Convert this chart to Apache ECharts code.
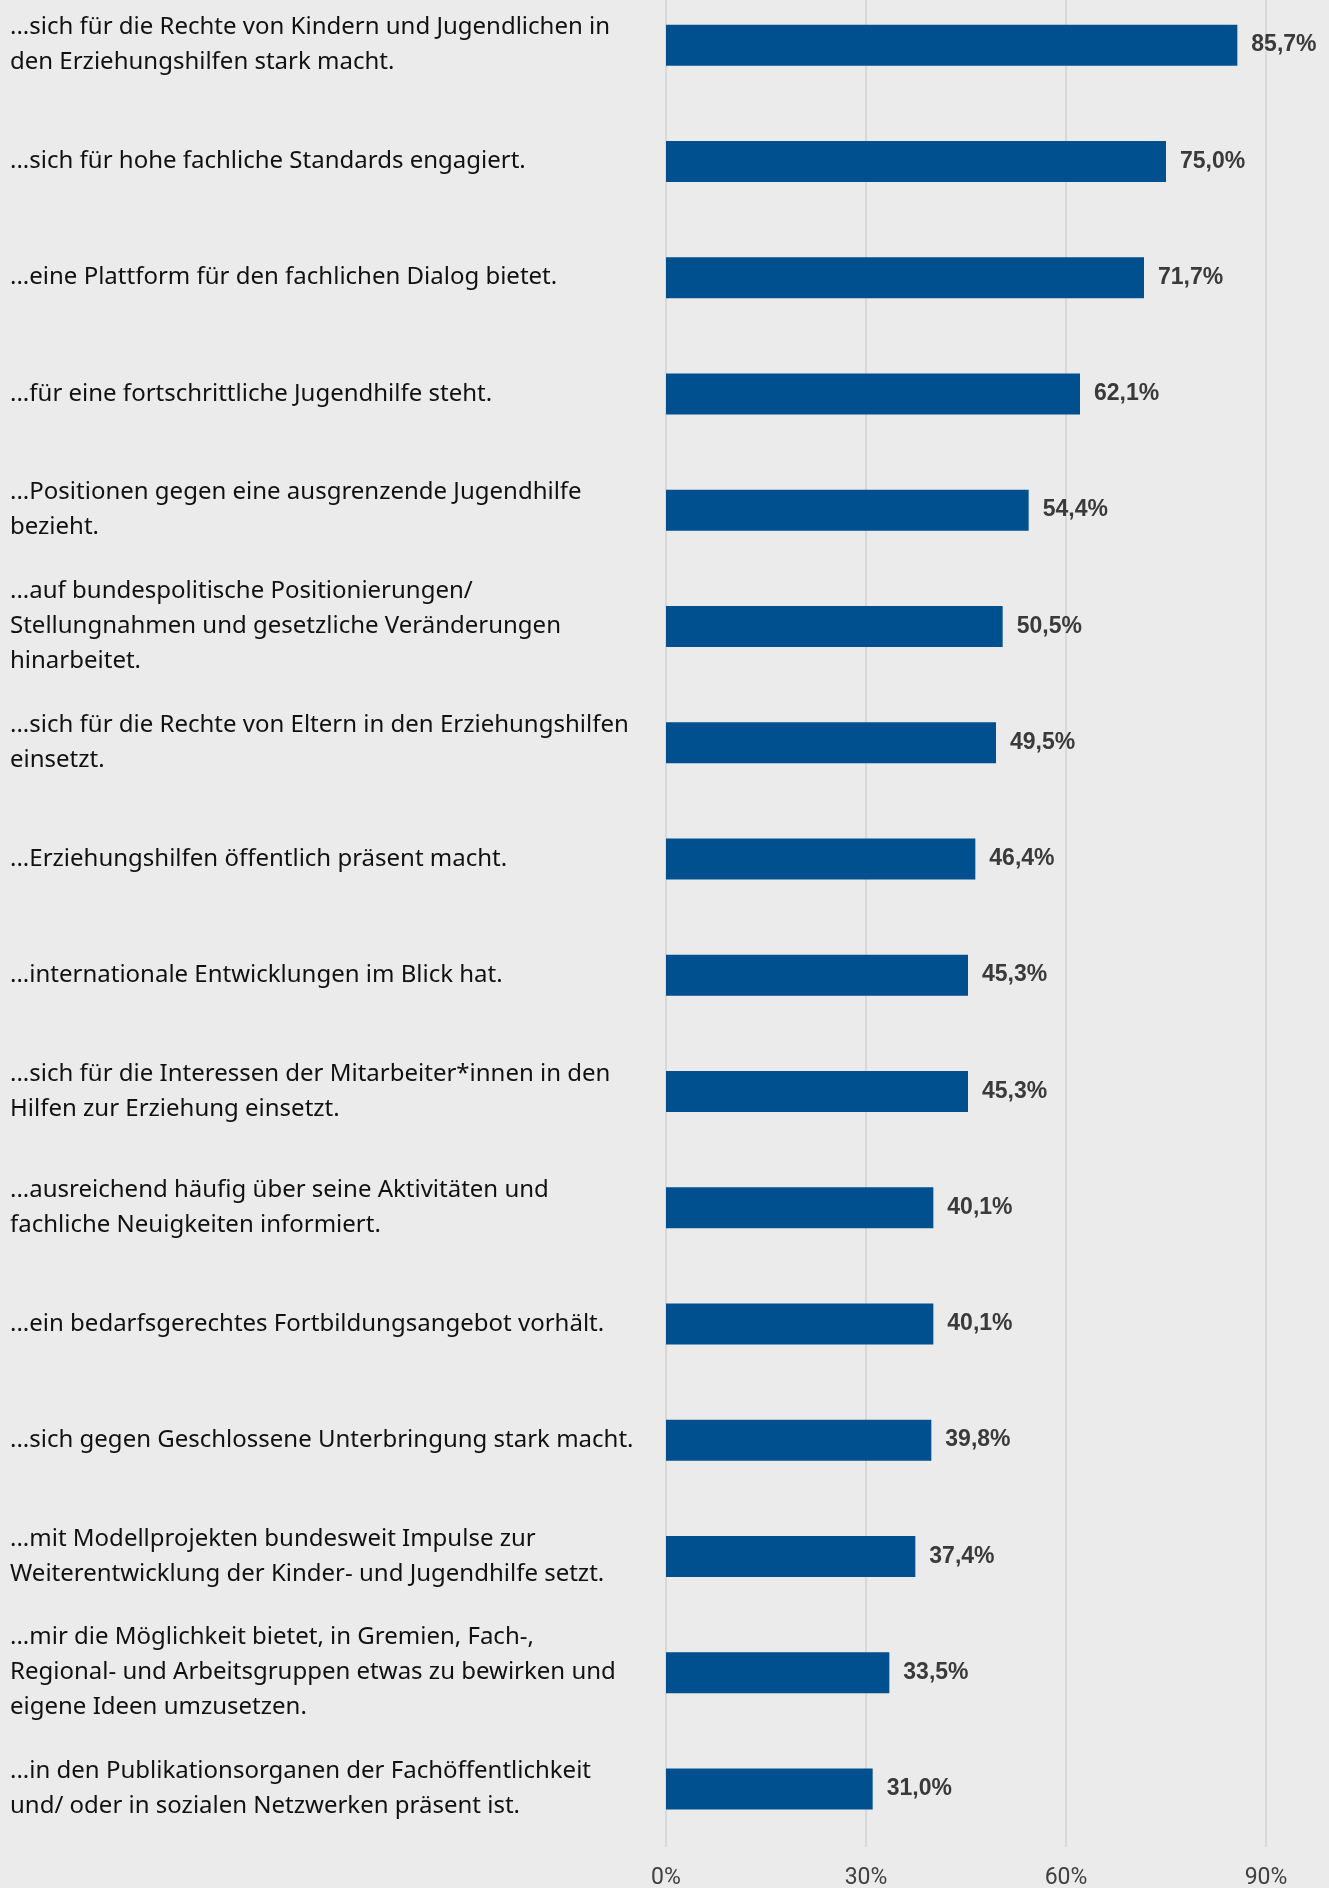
<!DOCTYPE html>
<html>
<head>
<meta charset="utf-8">
<style>
  html, body { margin: 0; padding: 0; background: #ebebeb; }
  #chart { width: 1329px; height: 1888px; }
</style>
<script src="https://cdn.jsdelivr.net/npm/echarts@6/dist/echarts.min.js"></script>
</head>
<body>
<div id="chart"></div>
<script>
// Statements, top to bottom (line breaks as printed)
const categories = [
  '...sich für die Rechte von Kindern und Jugendlichen in\nden Erziehungshilfen stark macht.',
  '...sich für hohe fachliche Standards engagiert.',
  '...eine Plattform für den fachlichen Dialog bietet.',
  '...für eine fortschrittliche Jugendhilfe steht.',
  '...Positionen gegen eine ausgrenzende Jugendhilfe\nbezieht.',
  '...auf bundespolitische Positionierungen/\nStellungnahmen und gesetzliche Veränderungen\nhinarbeitet.',
  '...sich für die Rechte von Eltern in den Erziehungshilfen\neinsetzt.',
  '...Erziehungshilfen öffentlich präsent macht.',
  '...internationale Entwicklungen im Blick hat.',
  '...sich für die Interessen der Mitarbeiter*innen in den\nHilfen zur Erziehung einsetzt.',
  '...ausreichend häufig über seine Aktivitäten und\nfachliche Neuigkeiten informiert.',
  '...ein bedarfsgerechtes Fortbildungsangebot vorhält.',
  '...sich gegen Geschlossene Unterbringung stark macht.',
  '...mit Modellprojekten bundesweit Impulse zur\nWeiterentwicklung der Kinder- und Jugendhilfe setzt.',
  '...mir die Möglichkeit bietet, in Gremien, Fach-,\nRegional- und Arbeitsgruppen etwas zu bewirken und\neigene Ideen umzusetzen.',
  '...in den Publikationsorganen der Fachöffentlichkeit\nund/ oder in sozialen Netzwerken präsent ist.'
];

// Share of agreement in percent
const shares = [85.7, 75.0, 71.7, 62.1, 54.4, 50.5, 49.5, 46.4, 45.3, 45.3, 40.1, 40.1, 39.8, 37.4, 33.5, 31.0];

// Value axis ticks
const axisMin = 0;
const axisMax = 90;
const axisStep = 30;

const chart = echarts.init(document.getElementById('chart'));

chart.setOption({
  backgroundColor: '#ebebeb',
  animation: false,
  grid: {
    left: 666,
    right: 63,
    top: -13,
    bottom: 41,
    containLabel: false,
    outerBoundsMode: 'none'
  },
  xAxis: {
    type: 'value',
    min: axisMin,
    max: axisMax,
    interval: axisStep,
    axisLine: { show: false },
    axisTick: { show: false },
    splitLine: { show: true, lineStyle: { color: '#d2d2d2', width: 1.5 } },
    axisLabel: {
      formatter: '{value}%',
      margin: 20,
      color: '#404040',
      fontFamily: 'Roboto',
      fontSize: 23
    }
  },
  yAxis: {
    type: 'category',
    inverse: true,
    data: categories,
    axisLine: { show: false },
    axisTick: { show: false },
    splitLine: { show: false },
    axisLabel: {
      align: 'left',
      margin: 656,
      color: '#111111',
      fontFamily: 'Noto Sans',
      fontSize: 24,
      lineHeight: 35
    }
  },
  series: [{
    type: 'bar',
    data: shares,
    barWidth: 41,
    itemStyle: { color: '#00508f' },
    label: {
      show: true,
      position: 'right',
      distance: 14,
      color: '#3a3a3a',
      fontFamily: 'Liberation Sans',
      fontWeight: 'bold',
      fontSize: 23,
      formatter: p => p.value.toFixed(1).replace('.', ',') + '%'
    }
  }]
});
</script>
</body>
</html>
